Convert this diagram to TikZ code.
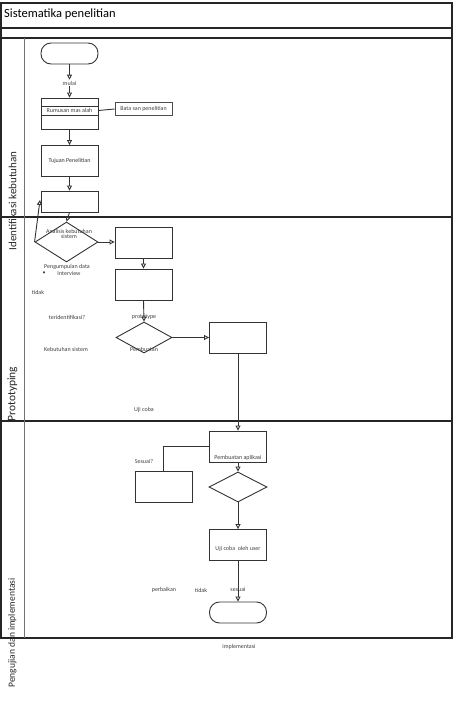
\documentclass[tikz,border=0pt]{standalone}
\usepackage{fontspec}
\setmainfont{Carlito}
\usetikzlibrary{arrows.meta,shapes.geometric}
\begin{document}
\begin{tikzpicture}[x=1pt,y=-1pt,
  frame/.style={draw=black!85,line width=1.1pt},
  proc/.style={draw=black!80,line width=0.9pt,minimum width=57pt,minimum height=31pt,inner sep=0pt,font=\fontsize{6}{7}\selectfont,text=black!80},
  dec/.style={diamond,draw=black!80,line width=0.9pt,inner sep=0pt,minimum width=57pt,minimum height=31pt},
  term/.style={draw=black!80,line width=0.9pt,rounded corners=10pt,minimum width=57pt,minimum height=21pt,inner sep=0pt},
  lbl/.style={font=\fontsize{6}{7}\selectfont,text=black!75,inner sep=1pt,align=center},
  lane/.style={rotate=90,inner sep=0pt,text=black!85},
  conn/.style={draw=black!80,line width=0.9pt},
  arr/.style={conn,-{Triangle[open,length=5pt,width=5pt]}}]
\useasboundingbox (0,0) rectangle (455,701);
% frame
\draw[frame] (1,3) rectangle (452,638);
\draw[frame] (1,28) -- (452,28);
\draw[frame] (1,38) -- (452,38);
\draw[frame] (1,217) -- (452,217);
\draw[frame] (1,421) -- (452,421);
\draw[draw=black!55,line width=1pt] (24,38) -- (24,638);
\node[anchor=west,font=\fontsize{12.5}{14}\selectfont,inner sep=0pt] (title) at (4,14) {Sistematika penelitian};
% lane labels
\node[lane,font=\fontsize{11}{12}\selectfont] (l1) at (12.5,201) {Identifikasi kebutuhan};
\node[lane,font=\fontsize{11.5}{12}\selectfont] (l2) at (12.5,394) {Prototyping};
\node[lane,font=\fontsize{9.5}{11}\selectfont] (l3) at (12.5,633) {Pengujian dan implementasi};
% lane 1
\node[term] (start) at (69.5,53.5) {};
\node[lbl] (mulai) at (69.5,83) {mulai};
\node[proc,minimum height=31pt] (rum) at (69.5,113.5) {};
\draw[conn] (41,106) -- (98,106);
\draw[conn] (41,115) -- (98,115);
\node[lbl] (rumt) at (69.5,110.5) {Rumusan mas alah};
\node[draw=black!70,line width=0.7pt,minimum width=57pt,minimum height=13pt,inner sep=0pt,font=\fontsize{6}{7}\selectfont,text=black!75] (bata) at (143.5,109) {Bata san penelitian};
\node[proc] (tuj) at (69.5,161) {Tujuan Penelitian};
\node[proc,minimum height=21pt] (b3) at (69.5,201.5) {};
% lane 2
\node[dec,minimum width=63pt,minimum height=40pt] (d1) at (66.5,242) {};
\coordinate (up) at (40,200);
\node[lbl] (anal) at (69,234) {Analisis kebutuhan\\[-2.5pt]sistem};
\node[proc,minimum height=31pt] (b2) at (143.5,243) {};
\node[proc,minimum height=31pt] (b3b) at (143.5,284.5) {};
\node[dec,minimum width=56pt,minimum height=31pt] (d2) at (144,337.5) {};
\node[proc,minimum height=31pt] (b4) at (238,337.5) {};
\node[lbl] (peng) at (67,266.5) {Pengumpulan data};
\node[lbl] (bul) at (44,273.5) {•};
\node[lbl] (intv) at (69,273) {Interview};
\node[lbl] (tdk1) at (38,292) {tidak};
\node[lbl] (teri) at (67,317) {teridentifikasi?};
\node[lbl] (proto) at (144,317) {prototype};
\node[lbl] (kebs) at (66,349) {Kebutuhan sistem};
\node[lbl] (pemb) at (144,349) {Pembuatan};
\node[lbl] (uji) at (144,410) {Uji coba};
% lane 3
\node[proc,minimum height=31pt] (b5) at (238,446.5) {};
\node[lbl,fill=white,inner sep=0.5pt] (pemba) at (238,458) {Pembuatan aplikasi};
\node[proc,minimum height=31pt] (b6) at (163.5,486.5) {};
\node[dec,minimum width=58pt,minimum height=30pt] (d3) at (238,487) {};
\node[proc,minimum height=31pt] (b7) at (238,545) {};
\node[lbl] (b7t) at (238,549) {Uji coba\ \ oleh user};
\node[term] (end) at (238,612.5) {};
\node[lbl] (ses1) at (144,461) {Sesuai?};
\node[lbl] (perb) at (164,590) {perbaikan};
\node[lbl] (tdk2) at (201,590) {tidak};
\node[lbl] (ses2) at (238,589) {sesuai};
\node[lbl] (impl) at (239,647) {implementasi};
% connectors
\draw[arr] (start.south) -- (mulai.north);
\draw[arr] (mulai.south) -- (rum.north);
\draw[conn] (rum.east |- rumt) -- (bata.west);
\draw[arr] (rum.south) -- (tuj.north);
\draw[arr] (tuj.south) -- (b3.north);
\draw[arr] (b3.south) -- (d1.north);
\draw[arr] (d1.west) -- (up);
\draw[arr] (d1.east) -- (d1.east -| b2.west);
\draw[arr] (b2.south) -- (b3b.north);
\draw[arr] (b3b.south) -- (d2.north);
\draw[arr] (d2.east) -- (b4.west);
\draw[arr] (b4.south) -- (b5.north);
\draw[conn] (b5.west) -| (b6.north);
\draw[arr] (b5.south) -- (d3.north);
\draw[arr] (d3.south) -- (b7.north);
\draw[arr] (b7.south) -- (end.north);
\end{tikzpicture}
\end{document}
